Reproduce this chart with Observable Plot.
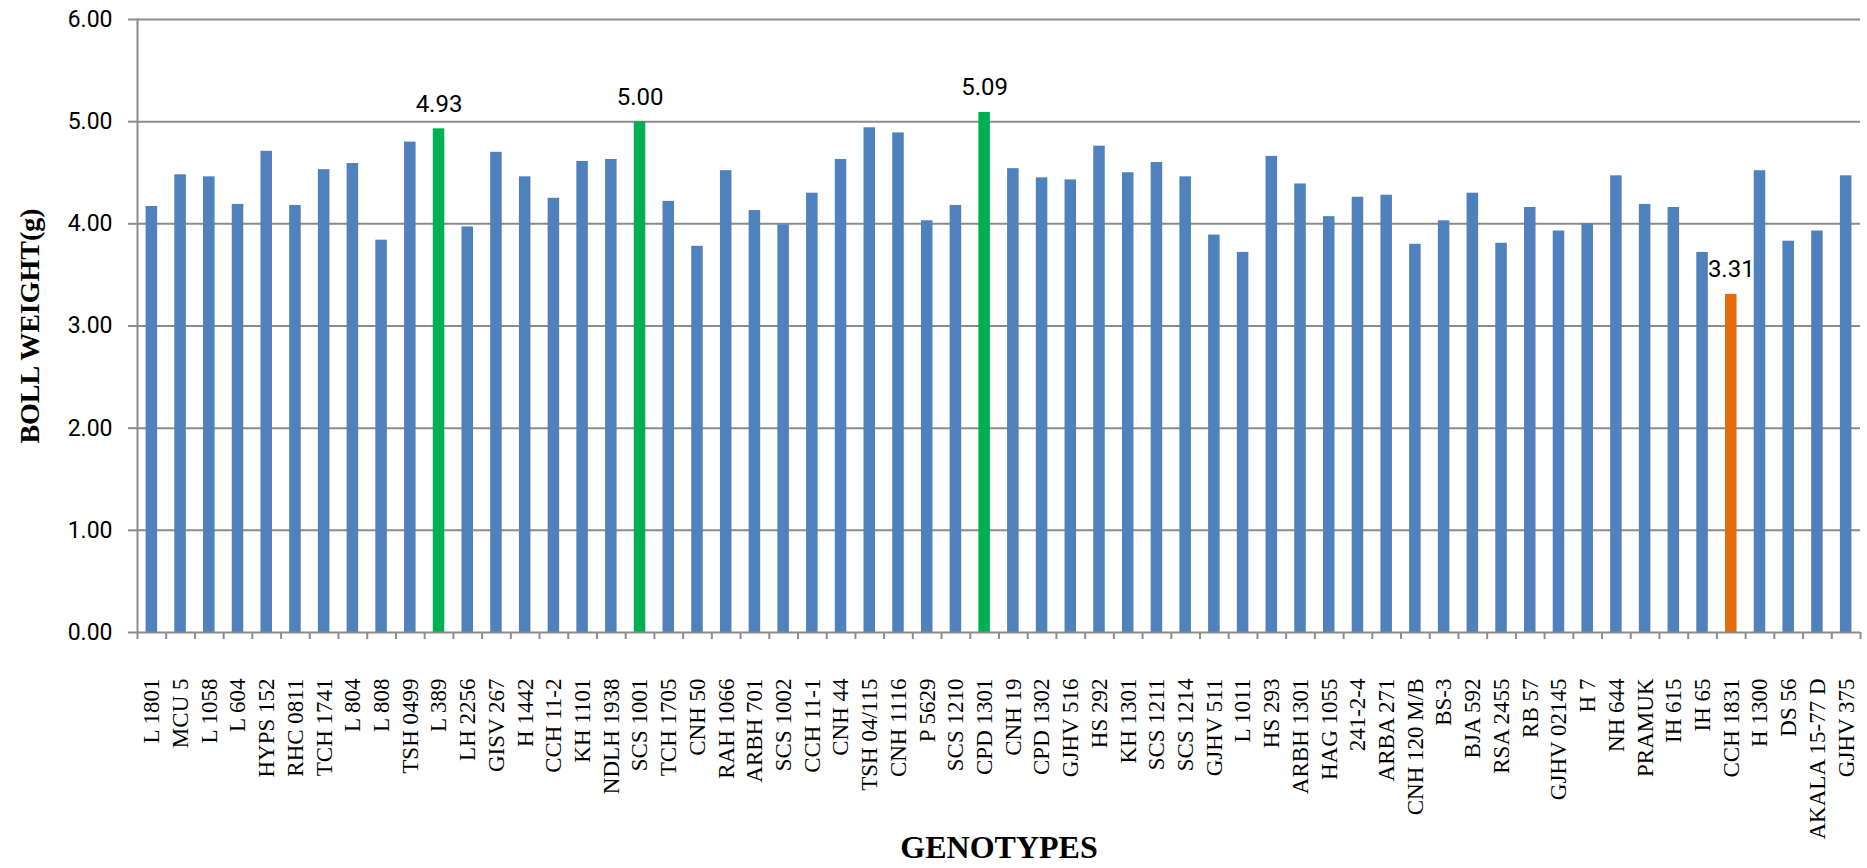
<!DOCTYPE html>
<html><head><meta charset="utf-8">
<script src="https://cdn.jsdelivr.net/npm/d3@7"></script>
<script src="https://cdn.jsdelivr.net/npm/@observablehq/plot@0.6"></script>
<style>body{margin:0;background:#fff;}</style>
</head><body><div id="chart"></div>
<script>
const genotypes = ["L 1801","MCU 5","L 1058","L 604","HYPS 152","RHC 0811","TCH 1741","L 804","L 808","TSH 0499",
"L 389","LH 2256","GISV 267","H 1442","CCH 11-2","KH 1101","NDLH 1938","SCS 1001","TCH 1705","CNH 50",
"RAH 1066","ARBH 701","SCS 1002","CCH 11-1","CNH 44","TSH 04/115","CNH 1116","P 5629","SCS 1210","CPD 1301",
"CNH 19","CPD 1302","GJHV 516","HS 292","KH 1301","SCS 1211","SCS 1214","GJHV 511","L 1011","HS 293",
"ARBH 1301","HAG 1055","241-2-4","ARBA 271","CNH 120 M/B","BS-3","BJA 592","RSA 2455","RB 57","GJHV 02145",
"H 7","NH 644","PRAMUK","IH 615","IH 65","CCH 1831","H 1300","DS 56","AKALA 15-77 D","GJHV 375"];
const bollWeight = [4.17,4.48,4.46,4.19,4.71,4.18,4.53,4.59,3.84,4.80,
4.93,3.97,4.70,4.46,4.25,4.61,4.63,5.00,4.22,3.78,
4.52,4.13,3.99,4.30,4.63,4.94,4.89,4.03,4.18,5.09,
4.54,4.45,4.43,4.76,4.50,4.60,4.46,3.89,3.72,4.66,
4.39,4.07,4.26,4.28,3.80,4.03,4.30,3.81,4.16,3.93,
4.00,4.47,4.19,4.16,3.72,3.31,4.52,3.83,3.93,4.47];
const highestGenotypes = ["L 389","SCS 1001","CPD 1301"];
const lowestGenotypes = ["CCH 1831"];
const yTicks = [0,1,2,3,4,5,6];
const xTitle = "GENOTYPES";
const yTitle = "BOLL WEIGHT(g)";

const data = genotypes.map((g,i)=>({
  genotype:g, weight:bollWeight[i],
  group: highestGenotypes.includes(g) ? "high" : lowestGenotypes.includes(g) ? "low" : "other"
}));

const W=1867, H=868, ml=137, mr=7, mt=19, mb=236;
const step = (W-ml-mr)/genotypes.length;
const gridColor = "#8c8c8c";

const chart = Plot.plot({
  width:W, height:H, marginLeft:ml, marginRight:mr, marginTop:mt, marginBottom:mb,
  style:{background:"white", fontFamily:"Roboto", color:"#000"},
  x:{domain:genotypes, padding:0, label:null},
  y:{domain:[0,6], label:null},
  color:{domain:["other","high","low"], range:["#4F81BD","#00B050","#E46C0A"]},
  marks:[
    Plot.gridY(yTicks.filter(v=>v>0), {stroke:gridColor, strokeOpacity:1, strokeWidth:2}),
    Plot.barY(data, {x:"genotype", y:"weight", fill:"group", insetLeft:8.6, insetRight:8.6}),
    Plot.ruleY([0], {stroke:gridColor, strokeWidth:2}),
    Plot.frame({anchor:"left", stroke:gridColor, strokeWidth:2}),
    Plot.axisY(yTicks, {tickFormat:d3.format(".2f"), tickSize:9, tickPadding:16, fontSize:23, stroke:gridColor, strokeWidth:2, fill:"#000", label:null}),
    Plot.axisX(genotypes, {tickFormat:()=>"", tickSize:7, dx:-step/2, stroke:gridColor, strokeWidth:2, label:null}),
    Plot.axisX([genotypes[genotypes.length-1]], {tickFormat:()=>"", tickSize:7, dx:step/2, stroke:gridColor, strokeWidth:2, label:null}),
    Plot.axisX(genotypes, {tickSize:0, tickRotate:-90, tickPadding:46, fontSize:23, fontFamily:"Liberation Serif", fill:"#000", label:null}),
    Plot.text(data.filter(d=>d.group!=="other"), {x:"genotype", y:"weight", text:d=>d.weight.toFixed(2), lineAnchor:"bottom", dy:-17, fontSize:24, fill:"#000"}),
    Plot.text([xTitle], {frameAnchor:"bottom", dy:225, fontFamily:"Liberation Serif", fontWeight:"bold", fontSize:32, fill:"#000"}),
    Plot.text([yTitle], {frameAnchor:"left", dx:-107, rotate:-90, textAnchor:"middle", fontFamily:"Liberation Serif", fontWeight:"bold", fontSize:28, fill:"#000"})
  ]
});
document.getElementById("chart").append(chart);
</script>
</body></html>
